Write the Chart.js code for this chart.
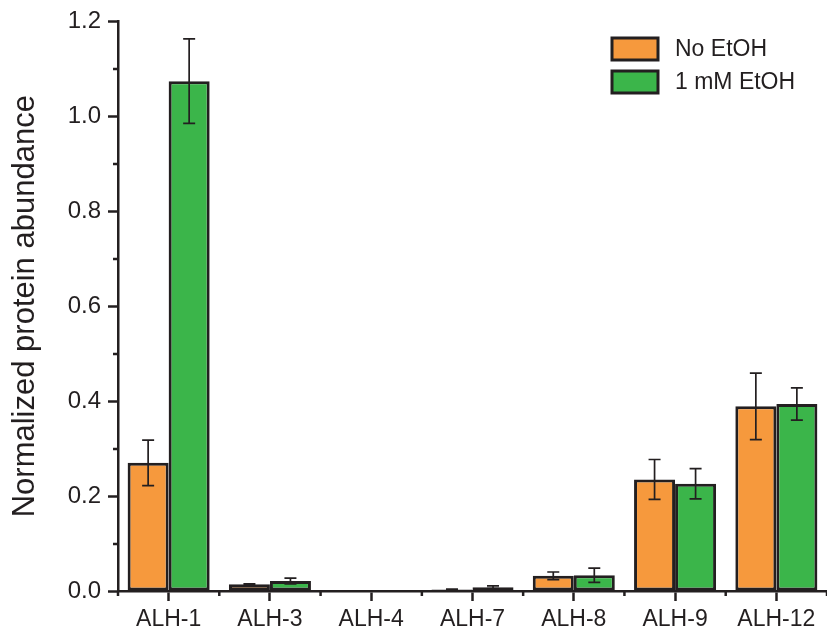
<!DOCTYPE html>
<html>
<head>
<meta charset="utf-8">
<script src="https://cdn.jsdelivr.net/npm/chart.js@4.4.1/dist/chart.umd.min.js"></script>
<style>
  html, body { margin: 0; padding: 0; background: #fff; }
  #wrap { width: 827px; height: 639px; position: relative; }
</style>
</head>
<body>
<div id="wrap"><canvas id="c"></canvas></div>
<script>
// Protein abundance per ALH isoform, with and without ethanol
const categories = ['ALH-1', 'ALH-3', 'ALH-4', 'ALH-7', 'ALH-8', 'ALH-9', 'ALH-12'];
const seriesNames = ['No EtOH', '1 mM EtOH'];
const noEtohMean = [0.270, 0.014, 0.002, 0.003, 0.032, 0.235, 0.389];
const noEtohErr  = [0.048, 0.001, 0.000, 0.001, 0.008, 0.042, 0.070];
const etohMean   = [1.074, 0.021, 0.002, 0.008, 0.033, 0.226, 0.394];
const etohErr    = [0.089, 0.006, 0.000, 0.003, 0.015, 0.032, 0.034];
const yTickValues = [0, 0.2, 0.4, 0.6, 0.8, 1.0, 1.2];

const INK = '#231f20';
const ORANGE = '#f6993d';
const GREEN = '#3bb54a';
const FONT = "'Liberation Sans', Arial, Helvetica, sans-serif";

// Error bars, minor ticks and the legend drawn on top of the bars
const extras = {
  id: 'extras',
  afterDatasetsDraw(chart) {
    const ctx = chart.ctx;
    const y = chart.scales.y;
    const errs = [noEtohErr, etohErr];
    ctx.save();
    ctx.strokeStyle = INK;
    ctx.lineWidth = 1.7;
    chart.data.datasets.forEach((ds, di) => {
      const meta = chart.getDatasetMeta(di);
      meta.data.forEach((bar, i) => {
        const v = ds.data[i];
        const e = errs[di][i];
        if (!e) return;
        const yt = y.getPixelForValue(v + e);
        const yb = y.getPixelForValue(Math.max(0, v - e));
        const cx = bar.x;
        const hw = 6;
        ctx.beginPath();
        ctx.moveTo(cx, yt); ctx.lineTo(cx, yb);
        ctx.moveTo(cx - hw, yt); ctx.lineTo(cx + hw, yt);
        ctx.moveTo(cx - hw, yb); ctx.lineTo(cx + hw, yb);
        ctx.stroke();
      });
    });
    ctx.restore();
  },
  afterDraw(chart) {
    const ctx = chart.ctx;
    const y = chart.scales.y;
    const x = chart.scales.x;
    const area = chart.chartArea;
    ctx.save();
    ctx.strokeStyle = INK;
    ctx.lineWidth = 2.5;
    // minor y ticks halfway between labelled ticks
    for (let k = 0; k < yTickValues.length - 1; k++) {
      const v = (yTickValues[k] + yTickValues[k + 1]) / 2;
      const py = Math.round(y.getPixelForValue(v));
      ctx.beginPath();
      ctx.moveTo(area.left - 5, py); ctx.lineTo(area.left, py);
      ctx.stroke();
    }
    // minor x ticks at category boundaries
    for (let i = 0; i <= categories.length; i++) {
      const px = x.getPixelForValue(i - 0.5);
      ctx.beginPath();
      ctx.moveTo(px, area.bottom); ctx.lineTo(px, area.bottom + 5);
      ctx.stroke();
    }
    // legend
    const lx = area.right - 215;
    const ly = [38, 71];
    const colors = [ORANGE, GREEN];
    ctx.font = '23px ' + FONT;
    ctx.textBaseline = 'middle';
    ctx.textAlign = 'left';
    for (let k = 0; k < 2; k++) {
      ctx.fillStyle = colors[k];
      ctx.fillRect(lx, ly[k], 46, 22);
      ctx.lineWidth = 3;
      ctx.strokeStyle = INK;
      ctx.strokeRect(lx, ly[k], 46, 22);
      ctx.fillStyle = INK;
      ctx.fillText(seriesNames[k], lx + 63, ly[k] + 12);
    }
    ctx.restore();
  }
};

new Chart(document.getElementById('c'), {
  type: 'bar',
  data: {
    labels: categories,
    datasets: [
      { label: seriesNames[0], data: noEtohMean, backgroundColor: ORANGE,
        borderColor: INK, borderWidth: 3, borderSkipped: false },
      { label: seriesNames[1], data: etohMean, backgroundColor: GREEN,
        borderColor: INK, borderWidth: 3, borderSkipped: false }
    ]
  },
  options: {
    responsive: true,
    maintainAspectRatio: false,
    animation: false,
    layout: { padding: { top: 20, right: 0, left: 0, bottom: 0 } },
    datasets: { bar: { categoryPercentage: 0.81, barPercentage: 1.0 } },
    plugins: { legend: { display: false }, tooltip: { enabled: false } },
    scales: {
      x: {
        afterFit(s) { s.height = 48; },
        grid: { display: true, drawOnChartArea: false, offset: false,
                tickLength: 10, tickWidth: 2.5, tickColor: INK },
        border: { display: true, color: INK, width: 2.5 },
        ticks: { color: INK, padding: 5, font: { family: FONT, size: 23 },
                 maxRotation: 0, autoSkip: false }
      },
      y: {
        min: 0, max: 1.2,
        afterFit(s) { s.width = 118; },
        afterBuildTicks(s) { s.ticks = yTickValues.map(v => ({ value: v })); },
        grid: { display: true, drawOnChartArea: false,
                tickLength: 10, tickWidth: 2.5, tickColor: INK },
        border: { display: true, color: INK, width: 2.5 },
        ticks: { color: INK, padding: 7, font: { family: FONT, size: 24 },
                 callback: v => Number(v).toFixed(1) },
        title: { display: true, text: 'Normalized protein abundance', color: INK,
                 font: { family: FONT, size: 31 }, padding: { top: 7, bottom: 0 } }
      }
    }
  },
  plugins: [extras]
});
</script>
</body>
</html>
